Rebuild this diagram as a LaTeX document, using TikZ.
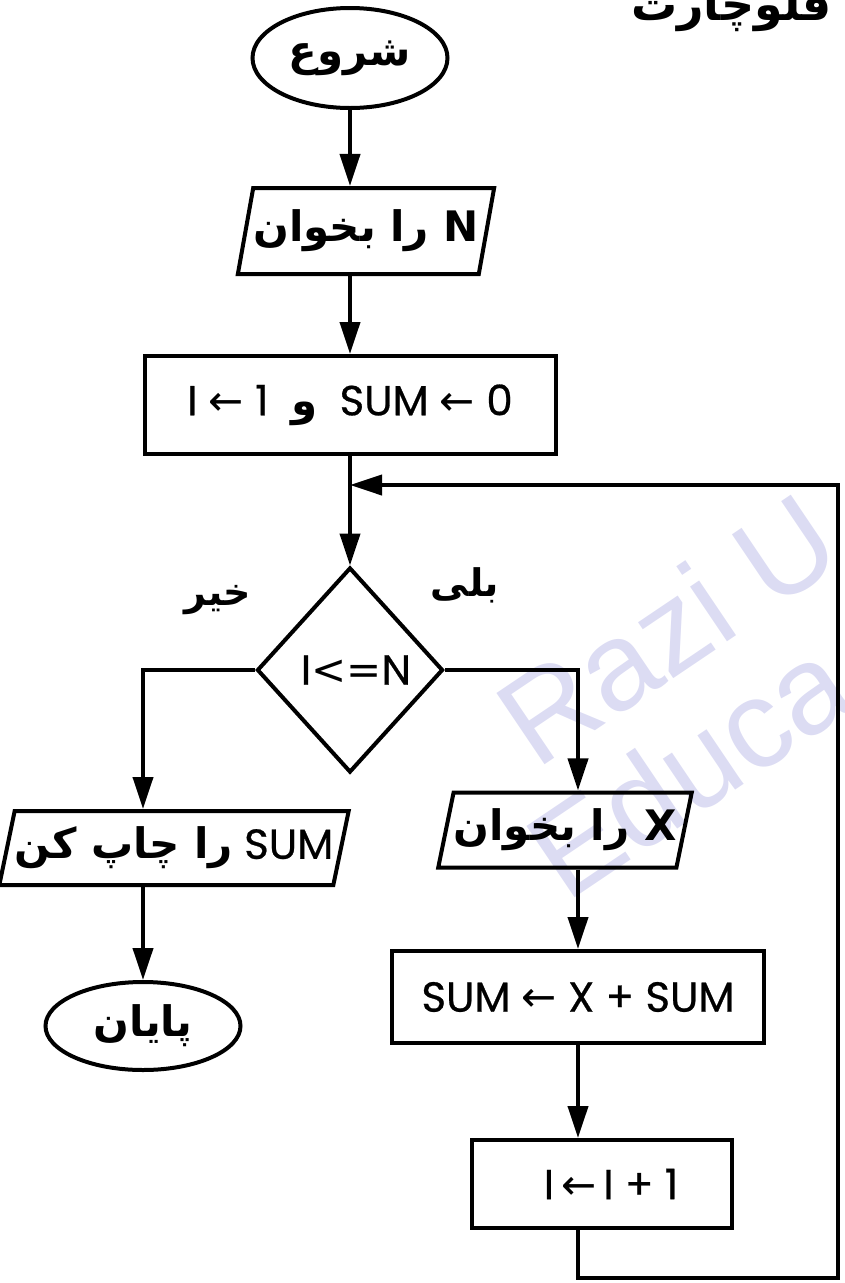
\documentclass[tikz,border=0pt]{standalone}
\usepackage{fontspec}
\setmainfont{Poppins}[FakeBold=0.6]
\newfontfamily\arabicfont[Script=Arabic]{DejaVu Sans}
\newfontfamily\dvs{DejaVu Sans}
\newfontfamily\wmfont{Liberation Sans}
\TeXXeTstate=1
\usetikzlibrary{shapes.geometric,arrows.meta}
\definecolor{wmcol}{HTML}{DCDCF3}
\newcommand{\ar}{\arabicfont\bfseries}
\newcommand{\la}{{\dvs ←}}
\begin{document}
\begin{tikzpicture}[x=1pt,y=-1pt,line width=4pt,
  every node/.style={inner sep=0pt,font=\fontsize{42}{48}\selectfont},
  term/.style={ellipse,draw},
  io/.style={trapezium,trapezium left angle=70,trapezium right angle=110,trapezium stretches=true,draw},
  proc/.style={rectangle,draw},
  dec/.style={diamond,draw},
  lbl/.style={font=\fontsize{38}{42}\selectfont\ar},
  wm/.style={text=wmcol,font=\fontsize{125}{130}\selectfont\wmfont,rotate=34,anchor=base west},
  arr/.style={-{Triangle[length=32pt,width=20pt]}}]
\useasboundingbox (0,0) rectangle (844,1283);
\clip (0,0) rectangle (844,1283);
% watermark
\node[wm] (wm1) at (535,772) {Razi U};
\node[wm] (wm2) at (565,905) {Educa};
% title
\node[anchor=base east,font=\fontsize{46}{50}\selectfont\ar] (title) at (834,20) {\beginR فلوچارت\endR};
% nodes
\node[term,minimum width=195pt,minimum height=100pt] (start) at (350,58) {\ar\beginR شروع\endR};
\node[io,minimum width=244pt,minimum height=86pt] (readN) at (366,231) {\ar\beginR N را بخوان\endR};
\node[proc,minimum width=411pt,minimum height=98pt] (init) at (350,405) {I~\la~1~~{\ar و}~~SUM~\la~0};
\node[dec,minimum width=186pt,minimum height=205pt] (cond) at (350,670) {\kern12pt I{\dvs<=}N};
\node[lbl] (no) at (218,600) {\beginR خیر\endR};
\node[lbl] (yes) at (465,585) {\beginR بلی\endR};
\node[io,minimum width=332pt,minimum height=74pt] (print) at (174,848) {\beginR\beginL SUM\endL{} {\ar را چاپ کن}\endR};
\node[term,minimum width=195pt,minimum height=88pt] (end) at (143,1026) {\ar\beginR پایان\endR};
\node[io,minimum width=245pt,minimum height=75pt] (readX) at (565,830) {\ar\beginR X را بخوان\endR};
\node[proc,minimum width=372pt,minimum height=92pt] (add) at (578,997) {SUM~\la~X~+~SUM};
\node[proc,minimum width=260pt,minimum height=88pt] (inc) at (602,1184) {\kern18pt I\,\la\,I~+~1};
\coordinate (join) at (350,485);
\coordinate (corner) at (838,1278);
% connectors
\draw[arr] (start.south) -- (start.south |- readN.north);
\draw[arr] (readN.south -| init) -- (init.north);
\draw[arr] (init) -- (cond);
\draw[arr] (cond.west) -| (end |- print.north);
\draw[arr] (print.south -| end) -- (end.north);
\draw[arr] (cond.east) -| (add |- readX.north);
\draw[arr] (readX.south -| add) -- (add.north);
\draw[arr] (add) -- (add |- inc.north);
\draw[arr] (inc.south -| add) |- (corner) |- (join);
\end{tikzpicture}
\end{document}
